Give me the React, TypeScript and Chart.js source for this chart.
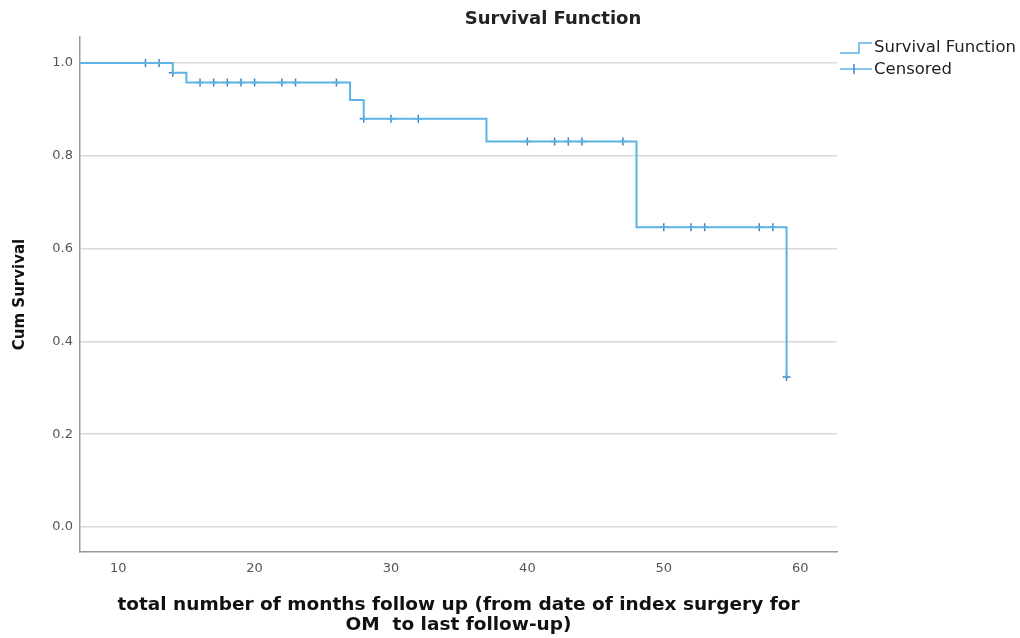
import React, { useEffect, useRef } from "react";
import { Chart, registerables } from "chart.js";

Chart.register(...registerables);

const chartTitle = "Survival Function";
const xTitle = ["total number of months follow up (from date of index surgery for", "OM  to last follow-up)"];
const yTitle = "Cum Survival";

// Kaplan-Meier step curve (time, cumulative survival after the event)
const curveTimes = [0, 14, 15, 27, 28, 37, 48, 59];
const curveSurv = [1.0, 0.979, 0.958, 0.92, 0.88, 0.831, 0.646, 0.323];

// Censored observations
const censorTimes = [12, 13, 14, 16, 17, 18, 19, 20, 22, 23, 26, 28, 30, 32, 40, 42, 43, 44, 47, 50, 52, 53, 57, 58, 59];
const censorSurv = [1.0, 1.0, 0.979, 0.958, 0.958, 0.958, 0.958, 0.958, 0.958, 0.958, 0.958, 0.88, 0.88, 0.88, 0.831, 0.831, 0.831, 0.831, 0.831, 0.646, 0.646, 0.646, 0.646, 0.646, 0.323];

const xTicks = [10, 20, 30, 40, 50, 60];
const yTicks = [0, 0.2, 0.4, 0.6, 0.8, 1.0];

const lineColor = "#5cb3e6";
const markerColor = "#3f86c4";
const font = '"DejaVu Sans", "Open Sans", sans-serif';

const overlayPlugin = {
  id: "overlay",
  afterDraw(chart: any) {
    const ctx = chart.ctx;
    const area = chart.chartArea;
    ctx.save();
    // Title
    ctx.font = `bold 18px ${font}`;
    ctx.fillStyle = "#222";
    ctx.textAlign = "center";
    ctx.textBaseline = "middle";
    ctx.fillText(chartTitle, 553, 19);

    // Legend
    const x0 = area.right + 3;
    const ds = chart.data.datasets;
    ctx.strokeStyle = lineColor;
    ctx.lineWidth = 1.5;
    ctx.beginPath();
    ctx.moveTo(x0, 53);
    ctx.lineTo(x0 + 19, 53);
    ctx.lineTo(x0 + 19, 43);
    ctx.lineTo(x0 + 32, 43);
    ctx.stroke();

    ctx.beginPath();
    ctx.moveTo(x0, 69);
    ctx.lineTo(x0 + 32, 69);
    ctx.stroke();
    ctx.strokeStyle = markerColor;
    ctx.beginPath();
    ctx.moveTo(x0 + 14, 64);
    ctx.lineTo(x0 + 14, 74);
    ctx.stroke();

    ctx.font = `16.5px ${font}`;
    ctx.fillStyle = "#222";
    ctx.textAlign = "left";
    ctx.textBaseline = "middle";
    ctx.fillText(ds[0].label, x0 + 34, 48);
    ctx.fillText(ds[1].label, x0 + 34, 70);
    ctx.restore();
  },
};

export default function App() {
  const ref = useRef<HTMLCanvasElement | null>(null);

  useEffect(() => {
    document.body.style.margin = "0";
    if (!ref.current) return;
    const chart = new Chart(ref.current, {
      type: "line",
      data: {
        datasets: [
          {
            label: "Survival Function",
            data: curveTimes.map((t, i) => ({ x: t, y: curveSurv[i] })),
            stepped: "before",
            borderColor: lineColor,
            borderWidth: 2,
            pointRadius: 0,
            fill: false,
          },
          {
            label: "Censored",
            data: censorTimes.map((t, i) => ({ x: t, y: censorSurv[i] })),
            showLine: false,
            pointStyle: "cross",
            pointRadius: 4,
            borderColor: markerColor,
            backgroundColor: markerColor,
            pointBorderWidth: 1.5,
          },
        ],
      },
      options: {
        responsive: false,
        animation: false,
        layout: { padding: { top: 37, right: 183, left: 0, bottom: 0 } },
        plugins: {
          legend: { display: false },
          title: { display: false },
          tooltip: { enabled: false },
        },
        scales: {
          x: {
            type: "linear",
            min: 7.2,
            max: 62.7,
            afterFit: (s: any) => {
              s.height = 86;
            },
            afterBuildTicks: (s: any) => {
              s.ticks = xTicks.map((v) => ({ value: v }));
            },
            grid: { display: false, drawTicks: false },
            border: { display: true, color: "#999", width: 1.5 },
            ticks: {
              padding: 9,
              color: "#555",
              font: { family: font, size: 13 },
              callback: (v: any) => String(v),
            },
            title: {
              display: true,
              text: xTitle,
              color: "#111",
              font: { family: font, size: 18.5, weight: "bold", lineHeight: 1.08 },
              padding: { top: 0, bottom: 3 },
            },
          },
          y: {
            type: "linear",
            min: -0.054,
            max: 1.056,
            afterFit: (s: any) => {
              s.width = 80;
            },
            afterBuildTicks: (s: any) => {
              s.ticks = yTicks.map((v) => ({ value: v }));
            },
            grid: { display: true, color: "#dadada", lineWidth: 1.5, drawTicks: false },
            border: { display: true, color: "#999", width: 1.5 },
            ticks: {
              padding: 7,
              color: "#555",
              font: { family: font, size: 13 },
              callback: (v: any) => Number(v).toFixed(1),
            },
            title: {
              display: true,
              text: yTitle,
              color: "#111",
              font: { family: font, size: 15, weight: "bold", lineHeight: 1.2 },
              padding: { top: 11, bottom: 0 },
            },
          },
        },
      },
      plugins: [overlayPlugin],
    });
    return () => chart.destroy();
  }, []);

  return (
    <div style={{ width: 1020, height: 638, background: "#fff" }}>
      <canvas ref={ref} width={1020} height={638} style={{ display: "block" }} />
    </div>
  );
}
